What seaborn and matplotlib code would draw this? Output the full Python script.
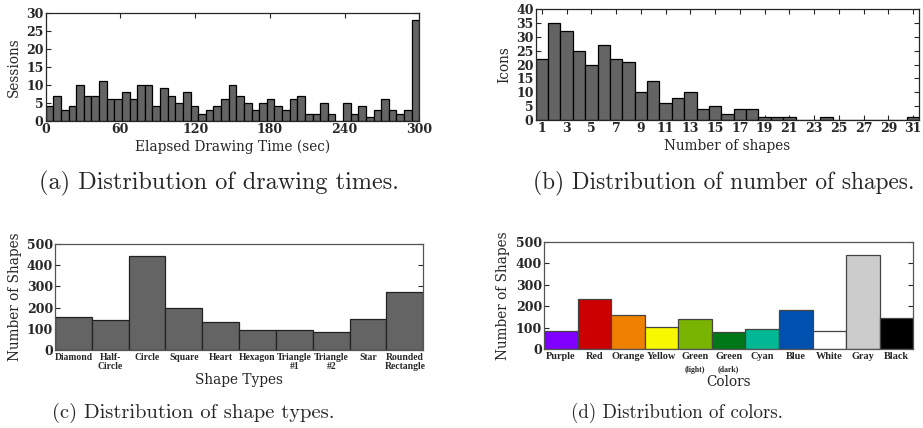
import numpy as np
import pandas as pd
import matplotlib
matplotlib.use("Agg")
import matplotlib.pyplot as plt
import matplotlib.transforms as mtransforms
import seaborn as sns

# (a) drawing times, 49 bins over 0-300 sec
time_edges = list(np.linspace(0, 300, 50))
time_counts = [4, 7, 3, 4, 10, 7, 7, 11, 6, 6, 8, 6, 10, 10, 4, 9, 7, 5, 8, 4,
               2, 3, 4, 6, 10, 7, 5, 3, 5, 6, 4, 3, 6, 7, 2, 2, 5, 2, 0, 5,
               2, 4, 1, 3, 6, 3, 2, 3, 28]

# (b) number of shapes per icon
n_shapes = list(range(1, 32))
icon_counts = [22, 35, 32, 25, 20, 27, 22, 21, 10, 14, 6, 8, 10, 4, 5, 2,
               4, 4, 1, 1, 1, 0, 0, 1, 0, 0, 0, 0, 0, 0, 1]

# (c) shape types
shape_types = ["Diamond", "Half-\nCircle", "Circle", "Square", "Heart", "Hexagon",
               "Triangle\n#1", "Triangle\n#2", "Star", "Rounded\nRectangle"]
shape_counts = [154, 142, 443, 197, 131, 95, 92, 86, 148, 274]

# (d) colors
color_names = ["Purple", "Red", "Orange", "Yellow", "Green", "Green", "Cyan",
               "Blue", "White", "Gray", "Black"]
color_subs = ["", "", "", "", "(light)", "(dark)", "", "", "", "", ""]
color_counts = [86, 235, 157, 105, 138, 80, 92, 182, 84, 441, 143]
color_hex = ["#7f00ff", "#cc0000", "#f08000", "#f8f800", "#78b400", "#007818",
             "#00b894", "#0050b0", "#ffffff", "#cccccc", "#000000"]

sns.set_style("ticks")
plt.rcParams["font.family"] = ["DejaVu Serif"]

W, H = 923, 428
fig = plt.figure(figsize=(W / 100, H / 100), dpi=100)


def frac(l, t, r, b):
    return [l / W, 1 - b / H, (r - l) / W, (b - t) / H]


def style(ax, tickfont=9):
    ax.tick_params(direction="in", top=True, right=True, length=3.5, width=0.8,
                   pad=1.5, labelsize=tickfont)
    for s in ax.spines.values():
        s.set_linewidth(0.9)


def bold_ticks(ax):
    for lab in ax.get_xticklabels() + ax.get_yticklabels():
        lab.set_fontweight("bold")


gray = "#646464"
label_fs = 9.8

# (a)
mids = [(lo + hi) / 2 for lo, hi in zip(time_edges[:-1], time_edges[1:])]
time_df = pd.DataFrame({"t": mids, "n": time_counts})
ax_a = fig.add_axes(frac(45.7, 13.3, 419.3, 120.7))
sns.histplot(data=time_df, x="t", weights="n", bins=time_edges, color=gray,
             alpha=1, edgecolor="black", linewidth=0.9, ax=ax_a)
style(ax_a)
ax_a.set_xlim(0, 300)
ax_a.set_ylim(0, 30)
ax_a.set_xticks(range(0, 301, 60))
ax_a.set_yticks(range(0, 31, 5))
ax_a.set_xlabel("Elapsed Drawing Time (sec)", fontsize=label_fs, labelpad=3)
ax_a.set_ylabel("Sessions", fontsize=label_fs)
ax_a.yaxis.set_label_coords(-0.066, 0.5)
bold_ticks(ax_a)

# (b)
shape_df = pd.DataFrame({"k": n_shapes, "n": icon_counts})
ax_b = fig.add_axes(frac(535.7, 9.3, 919.3, 120))
sns.histplot(data=shape_df, x="k", weights="n", discrete=True, color=gray,
             alpha=1, edgecolor="black", linewidth=0.9, ax=ax_b)
style(ax_b)
ax_b.set_xlim(0.5, 31.5)
ax_b.set_ylim(0, 40)
ax_b.set_xticks(range(1, 32, 2))
ax_b.set_yticks(range(0, 41, 5))
ax_b.set_xlabel("Number of shapes", fontsize=label_fs, labelpad=3)
ax_b.set_ylabel("Icons", fontsize=label_fs)
ax_b.yaxis.set_label_coords(-0.064, 0.5)
bold_ticks(ax_b)

# (c)
ax_c = fig.add_axes(frac(55, 244, 423.3, 350))
sns.barplot(x=list(range(len(shape_types))), y=shape_counts, color=gray,
            saturation=1, width=1, edgecolor="#222222", linewidth=0.9,
            native_scale=True, ax=ax_c)
style(ax_c)
ax_c.tick_params(axis="x", length=0, pad=2.5)
ax_c.set_xlim(-0.5, len(shape_types) - 0.5)
ax_c.set_ylim(0, 500)
ax_c.set_yticks(range(0, 501, 100))
bold_ticks(ax_c)
ax_c.set_xticks(range(len(shape_types)))
ax_c.set_xticklabels(shape_types, family="Liberation Serif", fontweight="bold",
                     fontsize=6.9, linespacing=1.0)
ax_c.set_xlabel("Shape Types", fontsize=label_fs, labelpad=1)
ax_c.set_ylabel("Number of Shapes", fontsize=label_fs)
ax_c.yaxis.set_label_coords(-0.09, 0.5)
for s in ax_c.spines.values():
    s.set_color("#555555")

# (d)
ax_d = fig.add_axes(frac(544, 242, 913.3, 349))
sns.barplot(x=list(range(len(color_names))), y=color_counts,
            hue=list(range(len(color_names))), palette=color_hex, legend=False,
            saturation=1, width=1, edgecolor="#444444", linewidth=0.9,
            native_scale=True, ax=ax_d)
style(ax_d)
ax_d.tick_params(axis="x", length=0, pad=2.5)
ax_d.set_xlim(-0.5, len(color_names) - 0.5)
ax_d.set_ylim(0, 500)
ax_d.set_yticks(range(0, 501, 100))
bold_ticks(ax_d)
ax_d.set_xticks(range(len(color_names)))
ax_d.set_xticklabels(color_names, family="Liberation Serif", fontweight="bold",
                     fontsize=7.4)
trans = mtransforms.blended_transform_factory(ax_d.transData, ax_d.transAxes)
for i, sub in enumerate(color_subs):
    if sub:
        ax_d.text(i, -0.155, sub, transform=trans, ha="center", va="top",
                  family="Liberation Serif", fontweight="bold", fontsize=5.6)
ax_d.set_xlabel("Colors", fontsize=label_fs, labelpad=10)
ax_d.set_ylabel("Number of Shapes", fontsize=label_fs)
ax_d.yaxis.set_label_coords(-0.092, 0.5)
for s in ax_d.spines.values():
    s.set_color("#555555")

# captions
cap = dict(family="cmr10", ha="center", va="center")
fig.text(219 / W, 1 - 183 / H, "(a) Distribution of drawing times.",
         fontsize=17.5, **cap)
fig.text(724 / W, 1 - 183 / H, "(b) Distribution of number of shapes.",
         fontsize=16.8, **cap)
fig.text(193 / W, 1 - 413 / H, "(c) Distribution of shape types.",
         fontsize=14.8, **cap)
fig.text(677 / W, 1 - 413 / H, "(d) Distribution of colors.",
         fontsize=13.6, **cap)

fig.savefig("out.png", dpi=100)
